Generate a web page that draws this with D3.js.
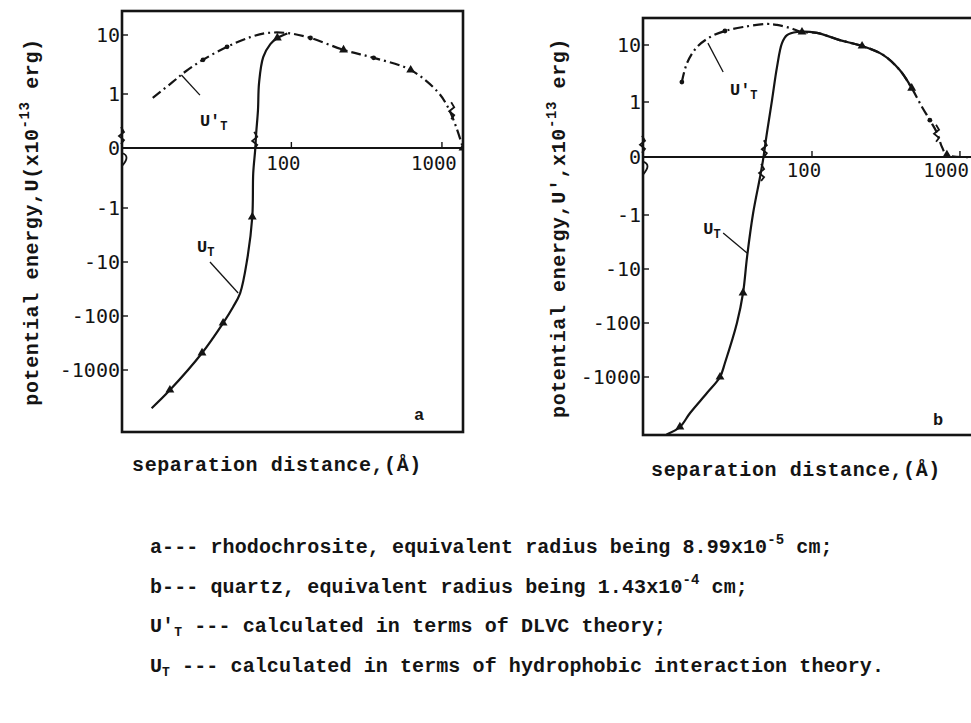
<!DOCTYPE html>
<html>
<head>
<meta charset="utf-8">
<script src="https://cdn.jsdelivr.net/npm/d3@7"></script>
<style>
  body { margin: 0; background: #fff; }
  svg { display: block; }
</style>
</head>
<body>
<svg id="fig" width="971" height="723"></svg>
<script>
// ---------------- data ----------------
// energy axis ticks (x10^-13 erg), distance axis ticks (Å)
const yTickValues = [10, 1, 0, -1, -10, -100, -1000];
const yTickLabels = ["10", "1", "0", "-1", "-10", "-100", "-1000"];
const xTickValues = [100, 1000];
const xTickLabels = ["100", "1000"];

// panel a — rhodochrosite
const aDlvcX = [12, 16.3, 19.6, 25.9, 37.4, 53.3, 69, 94, 134, 222, 352, 620, 940, 1094, 1250, 1380];
const aDlvcY = [0.93, 1.6, 2.36, 3.8, 6.3, 9.2, 10.8, 10.8, 8.9, 5.6, 4.1, 2.55, 1.08, 0.76, 0.37, 0];
const aDlvcDotX = [25.9, 37.4, 134, 352];
const aDlvcDotY = [3.8, 6.3, 8.9, 4.1];
const aHydroX = [11.8, 15.6, 25.5, 35.2, 41, 45.7, 50.8, 55, 55.8, 57.5, 58.4, 60, 61, 65, 72.5, 80.7, 94];
const aHydroY = [-5100, -2350, -484, -135, -68, -37.6, -9.2, -1.47, -0.42, -0.03, 0.28, 0.7, 1.54, 4.2, 7.0, 8.9, 10.6];
const aHydroTriX = [15.6, 25.5, 35.2, 55, 80.7, 222, 620, 1380];
const aHydroTriY = [-2350, -484, -135, -1.47, 8.9, 5.6, 2.55, 0];
const aBreakX = [57.5, 1170];
const aBreakY = [0.15, 0.7];

// panel b — quartz
const bDlvcX = [13.2, 14.3, 16.7, 20.5, 25.8, 34.2, 49.6, 58, 71, 85.6, 108, 154, 218, 302, 393, 472, 554, 626, 700, 756, 816, 1170];
const bDlvcY = [2.24, 4.8, 9.2, 13.8, 17.6, 20.7, 23.4, 22.5, 19.9, 16.9, 16.3, 12.2, 9.6, 6.7, 3.6, 1.75, 0.91, 0.67, 0.44, 0.18, 0.04, 0];
const bDlvcDotX = [13.2, 25.8, 626];
const bDlvcDotY = [2.24, 17.6, 0.67];
const bHydroX = [10.4, 12.8, 15, 19.5, 23.9, 25.8, 31.1, 34.2, 36.4, 40, 44.6, 46.7, 49.6, 53.7, 58, 62.7, 67.8, 79.2, 108, 154, 218, 302, 393, 472];
const bHydroY = [-11600, -8420, -4640, -1980, -1000, -550, -100, -27.8, -6.0, -0.97, -0.34, -0.05, 0.44, 1.08, 4.1, 10.8, 14.9, 16.9, 16.3, 12.2, 9.6, 6.7, 3.6, 1.75];
const bHydroTriX = [12.8, 23.9, 34.2, 85.6, 218, 472, 816];
const bHydroTriY = [-8420, -1000, -27.8, 16.9, 9.6, 1.75, 0.04];
const bBreakX = [48, 46, 700];
const bBreakY = [0.16, -0.26, 0.44];

const captionLines = [
  { lead: "a--- rhodochrosite, equivalent radius being 8.99x10", sup: "-5", tail: "  cm;" },
  { lead: "b--- quartz, equivalent radius being 1.43x10", sup: "-4", tail: " cm;" }
];
const captionTheory = [
  { prime: true, text: " --- calculated in terms of DLVC theory;" },
  { prime: false, text: " --- calculated in terms of hydrophobic interaction theory." }
];

// ---------------- drawing ----------------
const W = 971;
const INK = "#141414";
const MONO = "'Liberation Mono', 'DejaVu Sans Mono', monospace";
const DIGITS = "'DejaVu Sans Mono', 'Liberation Mono', monospace";
const svg = d3.select("#fig");

// broken energy axis: log above +1 and below -1, linear in between
function energyScale(zeroY, posRange, negRange) {
  const up = d3.scaleLog().domain([1, 10]).range(posRange);
  const down = d3.scaleLog().domain([1, 1000]).range(negRange);
  const upLin = d3.scaleLinear().domain([0, 1]).range([zeroY, posRange[0]]);
  const downLin = d3.scaleLinear().domain([0, 1]).range([zeroY, negRange[0]]);
  return v => v >= 1 ? up(v) : v >= 0 ? upLin(v) : v > -1 ? downLin(-v) : down(-v);
}

function zip(xs, ys) { return xs.map((x, i) => [x, ys[i]]); }

// "U" with subscript T, optionally primed
function appendU(textSel, prime, subSize, drop) {
  textSel.append("tspan").text(prime ? "U′" : "U");
  textSel.append("tspan").attr("dy", drop).attr("font-size", subSize).text("T");
}

function drawPanel(cfg) {
  const g = svg.append("g");
  const x = d3.scaleLog().domain(cfg.xDomain).range([cfg.left, cfg.right]);
  const y = energyScale(cfg.zeroY, cfg.pos, cfg.neg);
  const clipId = "clip-" + cfg.tag;
  svg.append("clipPath").attr("id", clipId)
    .append("rect").attr("x", cfg.left).attr("y", cfg.top)
    .attr("width", cfg.right - cfg.left).attr("height", cfg.bottom - cfg.top);

  // frame
  g.append("rect")
    .attr("x", cfg.left).attr("y", cfg.top)
    .attr("width", cfg.right - cfg.left).attr("height", cfg.bottom - cfg.top)
    .attr("fill", "none").attr("stroke", INK).attr("stroke-width", 2.6);

  // zero line (distance axis)
  g.append("line")
    .attr("x1", cfg.left).attr("x2", cfg.right)
    .attr("y1", y(0)).attr("y2", y(0))
    .attr("stroke", INK).attr("stroke-width", 2.2);

  // energy ticks and labels
  yTickValues.forEach((v, i) => {
    const yy = y(v);
    g.append("line").attr("x1", cfg.left).attr("x2", cfg.left + 6)
      .attr("y1", yy).attr("y2", yy).attr("stroke", INK).attr("stroke-width", 1.4);
    g.append("text")
      .attr("x", cfg.left - 2).attr("y", yy + 7)
      .attr("text-anchor", "end")
      .attr("font-family", DIGITS).attr("font-size", 20)
      .attr("fill", INK)
      .text(yTickLabels[i]);
  });

  // distance ticks and labels (kept inside the page on the right)
  xTickValues.forEach((v, i) => {
    const xx = x(v);
    g.append("line").attr("x1", xx).attr("x2", xx)
      .attr("y1", y(0) - 6).attr("y2", y(0)).attr("stroke", INK).attr("stroke-width", 1.4);
    const t = g.append("text")
      .attr("x", xx - 8).attr("y", y(0) + cfg.xLabelDy)
      .attr("text-anchor", "middle")
      .attr("font-family", DIGITS).attr("font-size", 19)
      .attr("fill", INK)
      .text(xTickLabels[i]);
    const w = t.node().getComputedTextLength();
    if (xx - 8 + w / 2 > W - 2) {
      t.attr("text-anchor", "end").attr("x", W - 2);
    }
  });

  // axis break marks on the energy axis (either side of zero)
  const bolt = "M-1,-8 L2,-3 L-3,1 L2,5 L-1,9";
  g.append("path").attr("d", bolt)
    .attr("transform", `translate(${cfg.left},${y(0.24)})`)
    .attr("fill", "none").attr("stroke", INK).attr("stroke-width", 1.8);
  g.append("path").attr("d", "M0,-7 Q9,-4 0,6")
    .attr("transform", `translate(${cfg.left},${y(-0.2)})`)
    .attr("fill", "none").attr("stroke", INK).attr("stroke-width", 1.8);

  const plot = g.append("g").attr("clip-path", `url(#${clipId})`);
  const line = d3.line().x(d => x(d[0])).y(d => y(d[1])).curve(d3.curveCatmullRom.alpha(0.5));

  // U'_T (DLVC) — dash-dot
  plot.append("path").datum(zip(cfg.dlvcX, cfg.dlvcY))
    .attr("d", line).attr("fill", "none")
    .attr("stroke", INK).attr("stroke-width", 2.2)
    .attr("stroke-dasharray", "10,4,2,4");

  // U_T (hydrophobic) — solid
  plot.append("path").datum(zip(cfg.hydroX, cfg.hydroY))
    .attr("d", line).attr("fill", "none")
    .attr("stroke", INK).attr("stroke-width", 2.2);

  // markers
  plot.selectAll(null).data(zip(cfg.dotX, cfg.dotY)).join("circle")
    .attr("cx", d => x(d[0])).attr("cy", d => y(d[1])).attr("r", 2.4).attr("fill", INK);
  plot.selectAll(null).data(zip(cfg.triX, cfg.triY)).join("path")
    .attr("d", d3.symbol(d3.symbolTriangle, 34))
    .attr("transform", d => `translate(${x(d[0])},${y(d[1])})`)
    .attr("fill", INK);

  // break marks on curves
  g.selectAll(null).data(zip(cfg.breakX, cfg.breakY)).join("path")
    .attr("d", bolt)
    .attr("transform", d => `translate(${x(d[0])},${y(d[1])})`)
    .attr("fill", "none").attr("stroke", INK).attr("stroke-width", 1.8);

  // curve labels with leader lines
  function curveLabel(lbl, prime) {
    g.append("line")
      .attr("x1", x(lbl.from[0])).attr("y1", y(lbl.from[1]))
      .attr("x2", x(lbl.to[0])).attr("y2", y(lbl.to[1]))
      .attr("stroke", INK).attr("stroke-width", 1.3);
    const t = g.append("text")
      .attr("x", x(lbl.at[0])).attr("y", y(lbl.at[1]))
      .attr("font-family", MONO).attr("font-weight", "bold").attr("font-size", 17)
      .attr("fill", INK);
    appendU(t, prime, 12, 4);
  }
  curveLabel(cfg.dlvcLabel, true);
  curveLabel(cfg.hydroLabel, false);

  // panel letter
  g.append("text")
    .attr("x", cfg.letterX).attr("y", cfg.letterY)
    .attr("font-family", MONO).attr("font-weight", "bold").attr("font-size", 17)
    .attr("fill", INK).text(cfg.tag);

  // distance axis title
  g.append("text")
    .attr("x", cfg.xTitleX).attr("y", cfg.xTitleY)
    .attr("text-anchor", "middle")
    .attr("font-family", MONO).attr("font-weight", "bold").attr("font-size", 20)
    .attr("letter-spacing", 0.6)
    .attr("fill", INK).text("separation distance,(Å)");

  // energy axis title
  const yt = g.append("text")
    .attr("transform", `translate(${cfg.yTitleX},${cfg.yTitleY}) rotate(-90)`)
    .attr("text-anchor", "middle")
    .attr("font-family", MONO).attr("font-weight", "bold").attr("font-size", 20)
    .attr("letter-spacing", 0.6)
    .attr("fill", INK);
  yt.append("tspan").text(cfg.yTitleLead);
  yt.append("tspan").attr("dy", -9).attr("font-size", 14).text("-13");
  yt.append("tspan").attr("dy", 9).text(" erg)");
}

drawPanel({
  tag: "a", left: 122, right: 463, top: 11, bottom: 432,
  xDomain: [7.5, 1380], zeroY: 148, pos: [94, 35], neg: [208, 370],
  xLabelDy: 22,
  dlvcX: aDlvcX, dlvcY: aDlvcY, dotX: aDlvcDotX, dotY: aDlvcDotY,
  hydroX: aHydroX, hydroY: aHydroY, triX: aHydroTriX, triY: aHydroTriY,
  breakX: aBreakX, breakY: aBreakY,
  dlvcLabel: { at: [24.7, 0.41], from: [24.7, 0.98], to: [18.6, 2.1] },
  hydroLabel: { at: [23.6, -6.6], from: [28.8, -10], to: [44.3, -37.6] },
  letterX: 414, letterY: 420,
  xTitleX: 277, xTitleY: 471,
  yTitleX: 38, yTitleY: 222, yTitleLead: "potential energy,U(x10"
});

drawPanel({
  tag: "b", left: 643, right: 990, top: 18, bottom: 435,
  xDomain: [7.21, 1596], zeroY: 157, pos: [102, 45], neg: [215, 377],
  xLabelDy: 20,
  dlvcX: bDlvcX, dlvcY: bDlvcY, dotX: bDlvcDotX, dotY: bDlvcDotY,
  hydroX: bHydroX, hydroY: bHydroY, triX: bHydroTriX, triY: bHydroTriY,
  breakX: bBreakX, breakY: bBreakY,
  dlvcLabel: { at: [27.9, 1.33], from: [25.1, 3.36], to: [19.8, 10.8] },
  hydroLabel: { at: [18.4, -2.25], from: [25.1, -2.15], to: [36.4, -5.05] },
  letterX: 933, letterY: 425,
  xTitleX: 796, xTitleY: 476,
  yTitleX: 565, yTitleY: 228, yTitleLead: "potential energy,U′,x10"
});

// caption
const cap = svg.append("g")
  .attr("font-family", MONO).attr("font-weight", "bold").attr("font-size", 20)
  .attr("letter-spacing", 0.1).attr("fill", INK);
captionLines.forEach((c, i) => {
  const t = cap.append("text").attr("x", 150).attr("y", 553 + i * 40);
  t.append("tspan").text(c.lead);
  t.append("tspan").attr("dy", -9).attr("font-size", 14).text(c.sup);
  t.append("tspan").attr("dy", 9).text(c.tail);
});
captionTheory.forEach((c, i) => {
  const t = cap.append("text").attr("x", 150).attr("y", 632 + i * 40);
  appendU(t, c.prime, 13, 4);
  t.append("tspan").attr("dy", -4).text(c.text);
});
</script>
</body>
</html>
